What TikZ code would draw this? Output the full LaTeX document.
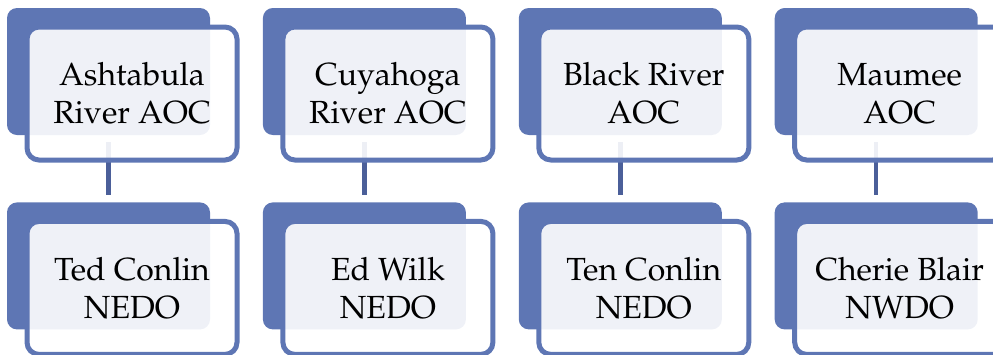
\documentclass[tikz,border=0pt]{standalone}
\usepackage[T1]{fontenc}
\usepackage{mathpazo}
\usetikzlibrary{positioning}
\definecolor{boxblue}{RGB}{94,118,180}
\definecolor{linkblue}{RGB}{75,95,153}

\begin{document}
\begin{tikzpicture}[x=1pt,y=-1pt,node distance=52.5pt,
  back/.style={fill=boxblue,rounded corners=10pt,minimum width=203pt,minimum height=127pt,inner sep=0pt},
  front/.style={draw=boxblue,line width=5pt,fill=white,fill opacity=0.9,text opacity=1,
    rounded corners=12pt,minimum width=210pt,minimum height=133pt,inner sep=0pt,align=center,
    font=\fontsize{32}{38}\selectfont},
  link/.style={draw=linkblue,line width=4.5pt,shorten <=7pt,shorten >=7pt}]
  \useasboundingbox (0,0) rectangle (993,354);
  % back plates, top row
  \node[back] (aoc1b) at (108.5,71.5) {};
  \node[back] (aoc2b) [right=of aoc1b] {};
  \node[back] (aoc3b) [right=of aoc2b] {};
  \node[back] (aoc4b) [right=of aoc3b] {};
  % back plates, bottom row
  \node[back] (do1b) [below=67pt of aoc1b] {};
  \node[back] (do2b) [below=67pt of aoc2b] {};
  \node[back] (do3b) [below=67pt of aoc3b] {};
  \node[back] (do4b) [below=67pt of aoc4b] {};
  % links
  \path (aoc1b) edge[link] (do1b)
    (aoc2b) edge[link] (do2b)
    (aoc3b) edge[link] (do3b)
    (aoc4b) edge[link] (do4b);
  % front boxes
  \node[front] (aoc1) at ([shift={(23.5pt,-22pt)}]aoc1b.center) {Ashtabula\\River AOC};
  \node[front] (aoc2) at ([shift={(23.5pt,-22pt)}]aoc2b.center) {Cuyahoga\\River AOC};
  \node[front] (aoc3) at ([shift={(23.5pt,-22pt)}]aoc3b.center) {Black River\\AOC};
  \node[front] (aoc4) at ([shift={(23.5pt,-22pt)}]aoc4b.center) {Maumee\\AOC};
  \node[front] (do1) at ([shift={(23.5pt,-22pt)}]do1b.center) {Ted Conlin\\NEDO};
  \node[front] (do2) at ([shift={(23.5pt,-22pt)}]do2b.center) {Ed Wilk\\NEDO};
  \node[front] (do3) at ([shift={(23.5pt,-22pt)}]do3b.center) {Ten Conlin\\NEDO};
  \node[front] (do4) at ([shift={(23.5pt,-22pt)}]do4b.center) {Cherie Blair\\NWDO};
\end{tikzpicture}
\end{document}
